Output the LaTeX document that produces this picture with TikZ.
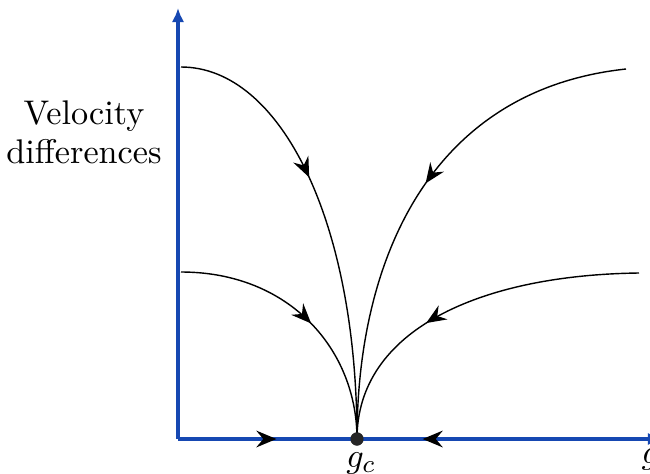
\documentclass[tikz,border=0pt]{standalone}
\usetikzlibrary{arrows.meta,decorations.markings}
\definecolor{axisblue}{RGB}{22,72,178}
\tikzset{flowtip/.tip={Stealth[length=6.4pt,width=5.3pt,inset=2.2pt,color=black]}}
\begin{document}
\begin{tikzpicture}[x=0.32pt,y=-0.32pt,
  axis/.style={draw=axisblue,line width=1.1pt},
  flow/.style={draw=black,line width=0.45pt},
  markat/.style={postaction={decorate},decoration={markings,mark=at position #1 with {\arrow{flowtip}}}},
  markrev/.style={postaction={decorate},decoration={markings,mark=at position #1 with {\arrowreversed{flowtip}}}},
  lbl/.style={inner sep=0pt,font=\fontsize{10.95pt}{12.5pt}\selectfont}]
\useasboundingbox (0,0) rectangle (650,473);
% points
\coordinate (O) at (178,439);
\coordinate (ytop) at (178,8);
\coordinate (xend) at (662,439);
\node[circle,fill=black!85,inner sep=0pt,minimum size=4.2pt] (gc) at (357,439) {};
\coordinate (a) at (181,67);
\coordinate (b) at (626,69);
\coordinate (c) at (181,272);
\coordinate (d) at (639,273);
% axes
\draw[axis,-{Latex[length=4.5pt,width=4pt]}] (O) -- (ytop);
\draw[axis,markat=0.55] (O) -- (gc.center);
\draw[axis,-{Latex[length=4.5pt,width=4pt]},markrev=21pt] (gc.center) -- (xend);
% flow lines
\draw[flow,markat=0.40] (a) .. controls (280,67) and (357,220) .. (gc.center);
\draw[flow,markat=0.47] (b) .. controls (430,90) and (357,260) .. (gc.center);
\draw[flow,markat=0.53] (c) .. controls (290,272) and (357,350) .. (gc.center);
\draw[flow,markat=0.61] (d) .. controls (480,275) and (357,330) .. (gc.center);
\node[circle,fill=black!85,inner sep=0pt,minimum size=4.2pt] at (gc) {};
% labels
\node[lbl,align=center] (ylabel) at (84,132) {Velocity\\differences};
\node[lbl,anchor=north] (gclabel) at (361,452) {$g_c$};
\node[lbl,anchor=north west] (glabel) at (641,448) {$g$};
\end{tikzpicture}
\end{document}
